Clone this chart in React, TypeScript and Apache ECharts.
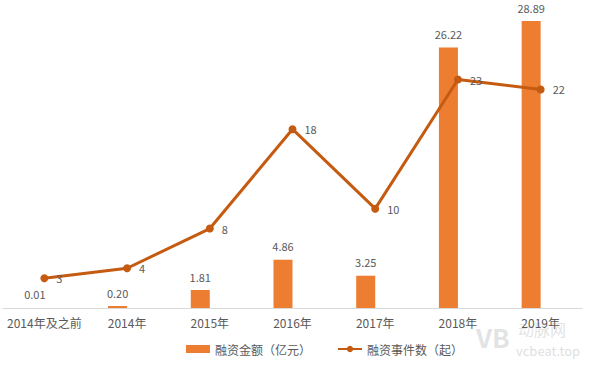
import React, { useEffect, useRef } from "react";
import * as echarts from "echarts";

const categories = ["2014年及之前", "2014年", "2015年", "2016年", "2017年", "2018年", "2019年"];
const amountValues = [0.01, 0.2, 1.81, 4.86, 3.25, 26.22, 28.89];
const eventValues = [3, 4, 8, 18, 10, 23, 22];
const amountLabels = ["0.01", "0.20", "1.81", "4.86", "3.25", "26.22", "28.89"];

export default function App() {
  const ref = useRef<HTMLDivElement>(null);
  useEffect(() => {
    if (!ref.current) return;
    const chart = echarts.init(ref.current, null, { renderer: "svg" });
    const font = '"Noto Sans CJK SC", "Noto Sans", sans-serif';
    chart.setOption({
      animation: false,
      textStyle: { fontFamily: font },
      grid: { left: 3, right: 18, top: 10, bottom: 57, containLabel: false },
      legend: {
        data: [
          { name: "融资金额（亿元）", icon: "rect" },
          { name: "融资事件数（起）" },
        ],
        bottom: 5,
        left: 181,
        itemWidth: 24,
        itemHeight: 8,
        itemGap: 26,
        textStyle: { color: "#595959", fontSize: 12, fontFamily: font },
      },
      xAxis: {
        type: "category",
        data: categories,
        axisLine: { lineStyle: { color: "#d9d9d9" } },
        axisTick: { show: false },
        axisLabel: { color: "#595959", fontSize: 12, margin: 8, interval: 0, fontFamily: font },
      },
      yAxis: [
        { type: "value", min: 0, max: 30, show: false, splitLine: { show: false } },
        { type: "value", min: 0, max: 30, show: false, splitLine: { show: false } },
      ],
      series: [
        {
          name: "融资金额（亿元）",
          type: "bar",
          yAxisIndex: 0,
          data: amountValues,
          barWidth: 19,
          barGap: "0%",
          itemStyle: { color: "#ED7D31" },
          label: {
            show: true,
            position: "top",
            distance: 8,
            color: "#595959",
            fontSize: 11,
            fontFamily: font,
            formatter: (p: any) => amountLabels[p.dataIndex],
          },
        },
        {
          name: "_spacer",
          type: "bar",
          yAxisIndex: 0,
          data: categories.map(() => "-"),
          barWidth: 19,
          itemStyle: { color: "transparent" },
          silent: true,
        },
        {
          name: "融资事件数（起）",
          type: "line",
          yAxisIndex: 1,
          data: eventValues,
          symbol: "circle",
          symbolSize: 8,
          lineStyle: { color: "#C55A11", width: 3 },
          itemStyle: { color: "#C55A11" },
          label: {
            show: true,
            position: "right",
            distance: 8,
            color: "#595959",
            fontSize: 11,
            fontFamily: font,
          },
        },
      ],
      graphic: [
        {
          type: "text",
          left: 476,
          top: 323,
          style: { text: "VB", fill: "rgba(200,200,200,0.5)", fontSize: 26, fontWeight: "bold", fontFamily: font },
        },
        {
          type: "text",
          left: 518,
          top: 321,
          style: { text: "动脉网", fill: "rgba(200,200,200,0.5)", fontSize: 16, fontFamily: font },
        },
        {
          type: "text",
          left: 516,
          top: 344,
          style: { text: "vcbeat.top", fill: "rgba(200,200,200,0.6)", fontSize: 13, fontFamily: font },
        },
      ],
    });
    return () => chart.dispose();
  }, []);
  return <div ref={ref} style={{ width: 600, height: 365, position: "absolute", left: 0, top: 0 }} />;
}
